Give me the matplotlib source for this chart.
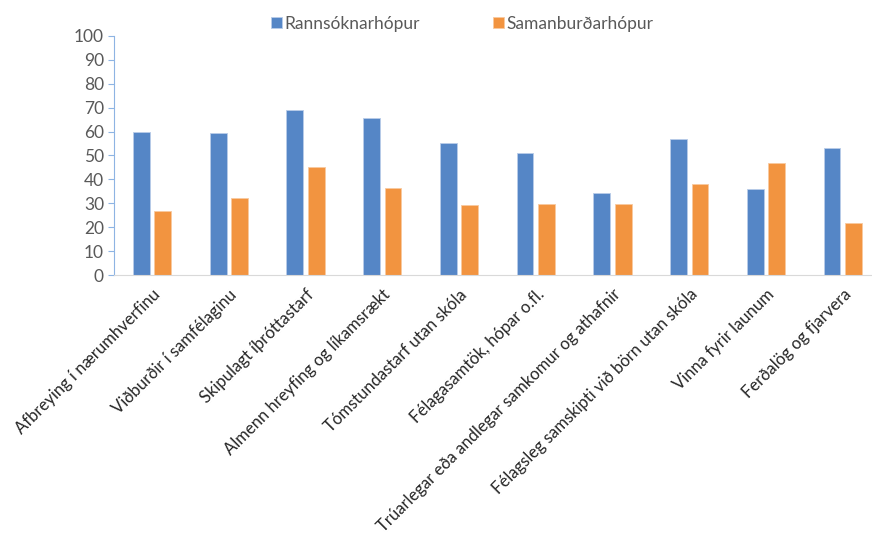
import matplotlib
matplotlib.use("Agg")
import matplotlib.pyplot as plt
import numpy as np

categories = [
    "Afbreying í nærumhverfinu",
    "Viðburðir í samfélaginu",
    "Skipulagt íþróttastarf",
    "Almenn hreyfing og líkamsrækt",
    "Tómstundastarf utan skóla",
    "Félagasamtök, hópar o.fl.",
    "Trúarlegar eða andlegar samkomur og athafnir",
    "Félagsleg samskipti við börn utan skóla",
    "Vinna fyrir launum",
    "Ferðalög og fjarvera",
]
rannsokn = [60, 59.3, 69, 65.8, 55.1, 50.9, 34.5, 56.8, 36, 53.1]
samanburd = [26.8, 32.4, 45.2, 36.6, 29.2, 29.8, 29.8, 38, 46.7, 21.7]
yticks = list(range(0, 101, 10))

plt.rcParams['font.family'] = ['Lato', 'DejaVu Sans']

fig = plt.figure(figsize=(8.72, 5.40), dpi=100)
ax = fig.add_axes([0.1304, 0.4902, 0.88, 0.4437])

x = np.arange(len(categories))
w = 0.22
gap = 0.03
ax.bar(x - w / 2 - gap, rannsokn, w, color="#5586C6", edgecolor="#B9CCE8", linewidth=0.6, label="Rannsóknarhópur")
ax.bar(x + w / 2 + gap, samanburd, w, color="#F29440", edgecolor="#F8C9A0", linewidth=0.6, label="Samanburðarhópur")

ax.set_xlim(-0.5, len(categories) - 0.5)
ax.set_ylim(0, 100)
ax.set_yticks(yticks)
ax.tick_params(axis='y', labelsize=12.5, labelcolor="#595959", color="#8EB4E3", length=4, direction='out', pad=3)
ax.tick_params(axis='x', length=0, pad=8)
ax.set_xticks(x)
ax.set_xticklabels(categories, rotation=45, ha='right', rotation_mode='anchor',
                   fontsize=12, color="#262626")

for s in ['top', 'right']:
    ax.spines[s].set_visible(False)
ax.spines['left'].set_color("#8EB4E3")
ax.spines['bottom'].set_color("#D9D9D9")

leg = fig.legend(loc='upper center', bbox_to_anchor=(0.53, 1.0), ncol=2, frameon=False,
                 fontsize=12.5, handlelength=0.65, handleheight=0.65, handletextpad=0.15,
                 columnspacing=4.2)
for t in leg.get_texts():
    t.set_color("#595959")

fig.savefig("out.png", dpi=100)
